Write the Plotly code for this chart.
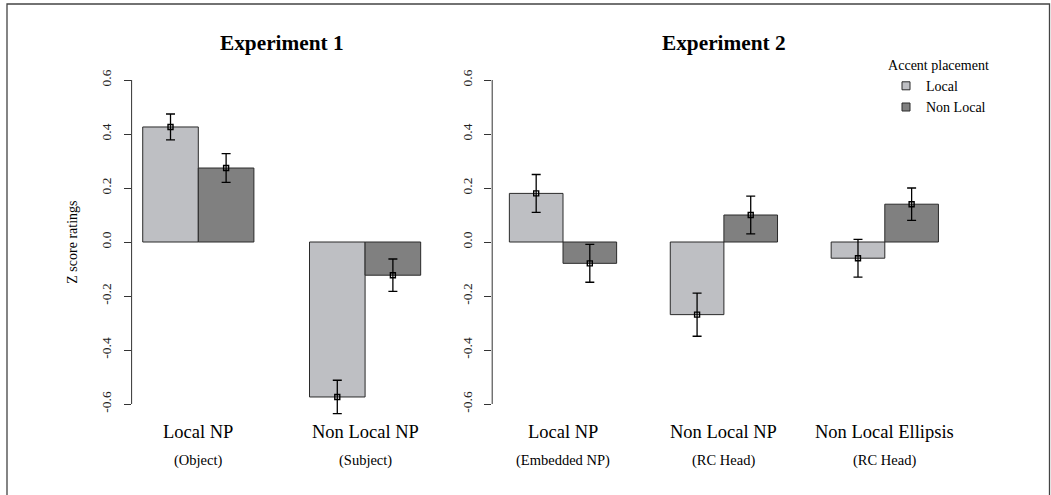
import plotly.graph_objects as go

# ---------------- data ----------------
exp1_groups = ["Local NP", "Non Local NP"]
exp1_sub = ["(Object)", "(Subject)"]
exp1_local = [0.426, -0.574]
exp1_nonlocal = [0.274, -0.123]
exp1_local_err = [0.048, 0.062]
exp1_nonlocal_err = [0.053, 0.060]

exp2_groups = ["Local NP", "Non Local NP", "Non Local Ellipsis"]
exp2_sub = ["(Embedded NP)", "(RC Head)", "(RC Head)"]
exp2_local = [0.180, -0.269, -0.060]
exp2_nonlocal = [-0.079, 0.100, 0.140]
exp2_local_err = [0.070, 0.080, 0.070]
exp2_nonlocal_err = [0.070, 0.070, 0.060]

series_names = ["Local", "Non Local"]
titles = ["Experiment 1", "Experiment 2"]
y_title = "Z score ratings"
legend_title = "Accent placement"
ytick_vals = [-0.6, -0.4, -0.2, 0.0, 0.2, 0.4, 0.6]
ytick_text = ["-0.6", "-0.4", "-0.2", "0.0", "0.2", "0.4", "0.6"]

# ---------------- style ----------------
W, H = 1051, 495
SERIF = "Liberation Serif"
LIGHT = "#bebfc3"
DARK = "#808080"
EDGE = "#2a2a2a"

def px_x(p):
    return p / W

def px_y(p):
    return 1 - p / H

# y mapping: 0.6 -> 80px, -0.6 -> 404px
y_range = [-0.70, 0.66]
y_dom = [px_y(242 + 0.70 * 270), px_y(242 - 0.66 * 270)]

fig = go.Figure()

panels = [
    dict(groups=exp1_groups, sub=exp1_sub, vals=[exp1_local, exp1_nonlocal],
         errs=[exp1_local_err, exp1_nonlocal_err], xa="x", ya="y",
         dom=[px_x(131.6), px_x(431.8)]),
    dict(groups=exp2_groups, sub=exp2_sub, vals=[exp2_local, exp2_nonlocal],
         errs=[exp2_local_err, exp2_nonlocal_err], xa="x2", ya="y2",
         dom=[px_x(492.2), px_x(955.6)]),
]

colors = [LIGHT, DARK]
for p in panels:
    n = len(p["groups"])
    for s in range(2):
        xs = [1.5 + s + 3 * i for i in range(n)]
        fig.add_trace(go.Bar(
            x=xs, y=p["vals"][s], width=[1] * n,
            marker=dict(color=colors[s], line=dict(color=EDGE, width=1)),
            error_y=dict(type="data", array=p["errs"][s], visible=True,
                         color="black", thickness=1.3, width=4.5),
            xaxis=p["xa"], yaxis=p["ya"], showlegend=False, hoverinfo="skip",
        ))
        fig.add_trace(go.Scatter(
            x=xs, y=p["vals"][s], mode="markers",
            marker=dict(symbol="square-open", size=5, color="black",
                        line=dict(width=1.4, color="black")),
            xaxis=p["xa"], yaxis=p["ya"], showlegend=False, hoverinfo="skip",
        ))

# legend entries
for s in range(2):
    fig.add_trace(go.Scatter(
        x=[None], y=[None], mode="markers", name=series_names[s],
        marker=dict(symbol="square", size=8, color=colors[s],
                    line=dict(color=EDGE, width=1)),
        xaxis="x2", yaxis="y2", showlegend=True,
    ))

axis_common = dict(showgrid=False, zeroline=False, showline=False)
ytick_common = dict(tickvals=ytick_vals, ticktext=ytick_text,
                    ticks="outside", ticklen=7, tickwidth=1, tickcolor="#333",
                    tickangle=-90, tickfont=dict(size=13.5, family=SERIF, color="#222"),
                    ticklabelstandoff=7)
fig.update_layout(
    width=W, height=H,
    margin=dict(l=0, r=0, t=0, b=0),
    paper_bgcolor="white", plot_bgcolor="white",
    barmode="overlay",
    font=dict(family=SERIF, color="black"),
    xaxis=dict(domain=panels[0]["dom"], range=[0.8, 6.2], showticklabels=False,
               ticks="", **axis_common),
    xaxis2=dict(domain=panels[1]["dom"], range=[0.68, 9.32], showticklabels=False,
                ticks="", anchor="y2", **axis_common),
    yaxis=dict(domain=y_dom, range=y_range, **ytick_common, **axis_common),
    yaxis2=dict(domain=y_dom, range=y_range, anchor="x2", **ytick_common, **axis_common),
    legend=dict(
        title=dict(text=legend_title, side="top center", font=dict(size=14, family=SERIF)),
        font=dict(size=14, family=SERIF),
        x=px_x(886), y=px_y(52), xanchor="left", yanchor="top",
        bgcolor="rgba(0,0,0,0)", borderwidth=0,
        itemsizing="trace",
    ),
)

annotations = []
shapes = []
for k, p in enumerate(panels):
    n = len(p["groups"])
    # axis line from -0.6 to 0.6
    shapes.append(dict(type="line", xref=p["xa"] + " domain", yref=p["ya"],
                       x0=0, x1=0, y0=ytick_vals[0], y1=ytick_vals[-1],
                       line=dict(color="#333", width=1)))
    # panel title
    annotations.append(dict(text="<b>" + titles[k] + "</b>", xref="paper", yref="paper",
                            x=(p["dom"][0] + p["dom"][1]) / 2, y=px_y(43),
                            xanchor="center", yanchor="middle", showarrow=False,
                            font=dict(size=21.3, family=SERIF, color="black")))
    for i in range(n):
        annotations.append(dict(text=p["groups"][i], xref=p["xa"], yref="paper",
                                x=2 + 3 * i, y=px_y(432), xanchor="center",
                                yanchor="middle", showarrow=False,
                                font=dict(size=18.5, family=SERIF, color="black")))
        annotations.append(dict(text=p["sub"][i], xref=p["xa"], yref="paper",
                                x=2 + 3 * i, y=px_y(460), xanchor="center",
                                yanchor="middle", showarrow=False,
                                font=dict(size=14.5, family=SERIF, color="black")))

annotations.append(dict(text=y_title, xref="paper", yref="paper", x=px_x(71.7), y=px_y(242),
                        textangle=-90, xanchor="center", yanchor="middle", showarrow=False,
                        font=dict(size=14, family=SERIF, color="black")))

# outer frame
shapes.append(dict(type="rect", xref="paper", yref="paper",
                   x0=px_x(7), x1=px_x(1049.5), y0=-0.2, y1=px_y(4),
                   line=dict(color="#444", width=1.3)))

fig.update_layout(annotations=annotations, shapes=shapes)
fig.write_html("out.html")
